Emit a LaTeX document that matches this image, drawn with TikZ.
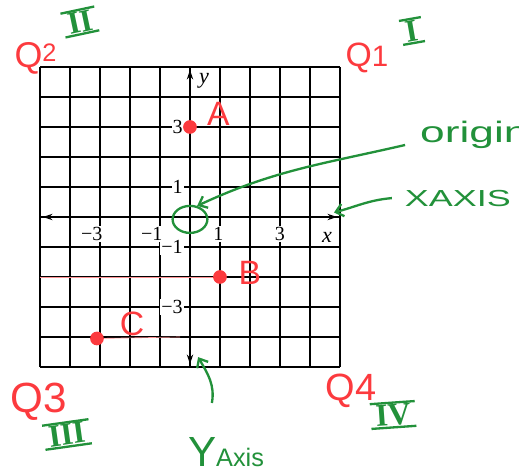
\documentclass[tikz,border=0pt]{standalone}
\usepackage{fontspec}
\setmainfont{Liberation Serif}
\newfontfamily\handfont{Liberation Sans}
\definecolor{penred}{RGB}{252,58,62}
\definecolor{pengreen}{RGB}{34,145,58}
\usetikzlibrary{arrows.meta,shapes.geometric}

\begin{document}
\begin{tikzpicture}[
  gridline/.style={line width=1.1pt},
  axisline/.style={line width=1.6pt,{Stealth[length=9pt,width=6pt]}-{Stealth[length=9pt,width=6pt]}},
  ticklab/.style={fill=white,inner sep=1pt,font=\fontsize{19}{19}\selectfont},
  dot/.style={circle,fill=penred,inner sep=0pt,minimum size=13pt},
  redtxt/.style={penred,font=\handfont\fontsize{32}{32}\selectfont},
  greentxt/.style={pengreen,font=\handfont\fontsize{22}{22}\selectfont},
  roman/.style={pengreen,inner sep=1.5pt,font=\bfseries\fontsize{30}{30}\selectfont},
  romanbar/.style={pengreen,line width=2.2pt,shorten <=-3pt,shorten >=-3pt},
  pen/.style={pengreen,line width=2.2pt,-{Straight Barb[length=7pt,width=12pt]}}]
  \useasboundingbox (-6.333,-8.6) rectangle (10.967,7.233);
  \draw[gridline] (-5,-5) grid (5,5);
  % tick labels
  \node[ticklab,anchor=east] (y3) at (-0.2,3) {3};
  \node[ticklab,anchor=east] (y1) at (-0.2,1) {1};
  \node[ticklab,anchor=east] (ym1) at (-0.2,-1) {−1};
  \node[ticklab,anchor=east] (ym3) at (-0.2,-3) {−3};
  \node[ticklab,anchor=north east] (xm3) at (-2.88,-0.3) {−3};
  \node[ticklab,anchor=north east] (xm1) at (-0.88,-0.3) {−1};
  \node[ticklab,anchor=north] (x1) at (0.95,-0.3) {1};
  \node[ticklab,anchor=north] (x3) at (3,-0.3) {3};
  \draw[axisline] (-4.9,0) -- (4.9,0);
  \draw[axisline] (0,-4.9) -- (0,4.9);
  \node[font=\fontsize{21}{21}\selectfont\itshape] (ylab) at (0.47,4.55) {y};
  \node[font=\fontsize{21}{21}\selectfont\itshape] (xlab) at (4.57,-0.68) {x};
  % plotted points
  \coordinate (bstart) at (-5,-2);
  \coordinate (cend) at (-0.33,-4);
  \node[dot] (A) at (0,3) {};
  \node[dot] (B) at (1,-2) {};
  \node[dot] (C) at (-3.1,-4.05) {};
  \draw[penred!55,line width=0.6pt] (bstart) -- (B);
  \draw[penred!55,line width=0.6pt] (C) -- (cend);
  \node[redtxt] (Alab) at (0.95,3.42) {A};
  \node[redtxt] (Blab) at (2.0,-1.85) {B};
  \node[redtxt] (Clab) at (-1.93,-3.57) {C};
  % quadrants
  \node[redtxt,font=\handfont\fontsize{34}{34}\selectfont] (q2) at (-5.15,5.3) {Q\raisebox{5pt}{\fontsize{24}{24}\selectfont 2}};
  \node[redtxt,font=\handfont\fontsize{32}{32}\selectfont] (q1) at (5.9,5.3) {Q\fontsize{28}{28}\selectfont 1};
  \node[redtxt,font=\handfont\fontsize{40}{40}\selectfont] (q3) at (-5.05,-6.17) {Q3};
  \node[redtxt,font=\handfont\fontsize{36}{36}\selectfont] (q4) at (5.37,-5.8) {Q4};
  \node[roman,rotate=12] (r2) at (-3.67,6.5) {II};
  \node[roman,rotate=10] (r1) at (7.4,6.2) {I};
  \node[roman,rotate=8] (r3) at (-4.1,-7.25) {III};
  \node[roman,rotate=4] (r4) at (6.77,-6.6) {IV};
  \foreach \r in {r1,r2,r3,r4}{
    \draw[romanbar] (\r.north west) -- (\r.north east);
    \draw[romanbar] (\r.south west) -- (\r.south east);
  }
  % notes
  \node[draw=pengreen,line width=2.2pt,ellipse,minimum width=1.16cm,minimum height=0.9cm] (O) at (0,-0.08) {};
  \node[greentxt,font=\handfont\fontsize{28}{28}\selectfont,anchor=west] (origlab) at (7.55,2.75) {\scalebox{1.5}[1]{origin}};
  \coordinate (otail) at (7.17,2.4);
  \draw[pen] (otail) to[out=193,in=25] (O.62);
  \node[greentxt] (xaxlab) at (8.93,0.6) {\scalebox{1.55}[1]{XAXIS}};
  \coordinate (xtail) at (6.73,0.63);
  \coordinate (xtip) at (4.8,0.15);
  \draw[pen] (xtail) to[out=185,in=15] (xtip);
  \node[greentxt,anchor=south] (yaxlab) at (1.2,-8.45) {\fontsize{40}{40}\selectfont Y\fontsize{24}{24}\selectfont Axis};
  \coordinate (ytail) at (0.73,-6.2);
  \coordinate (ytip) at (0.27,-4.67);
  \draw[pen] (ytail) to[out=80,in=-60] (ytip);
\end{tikzpicture}
\end{document}
